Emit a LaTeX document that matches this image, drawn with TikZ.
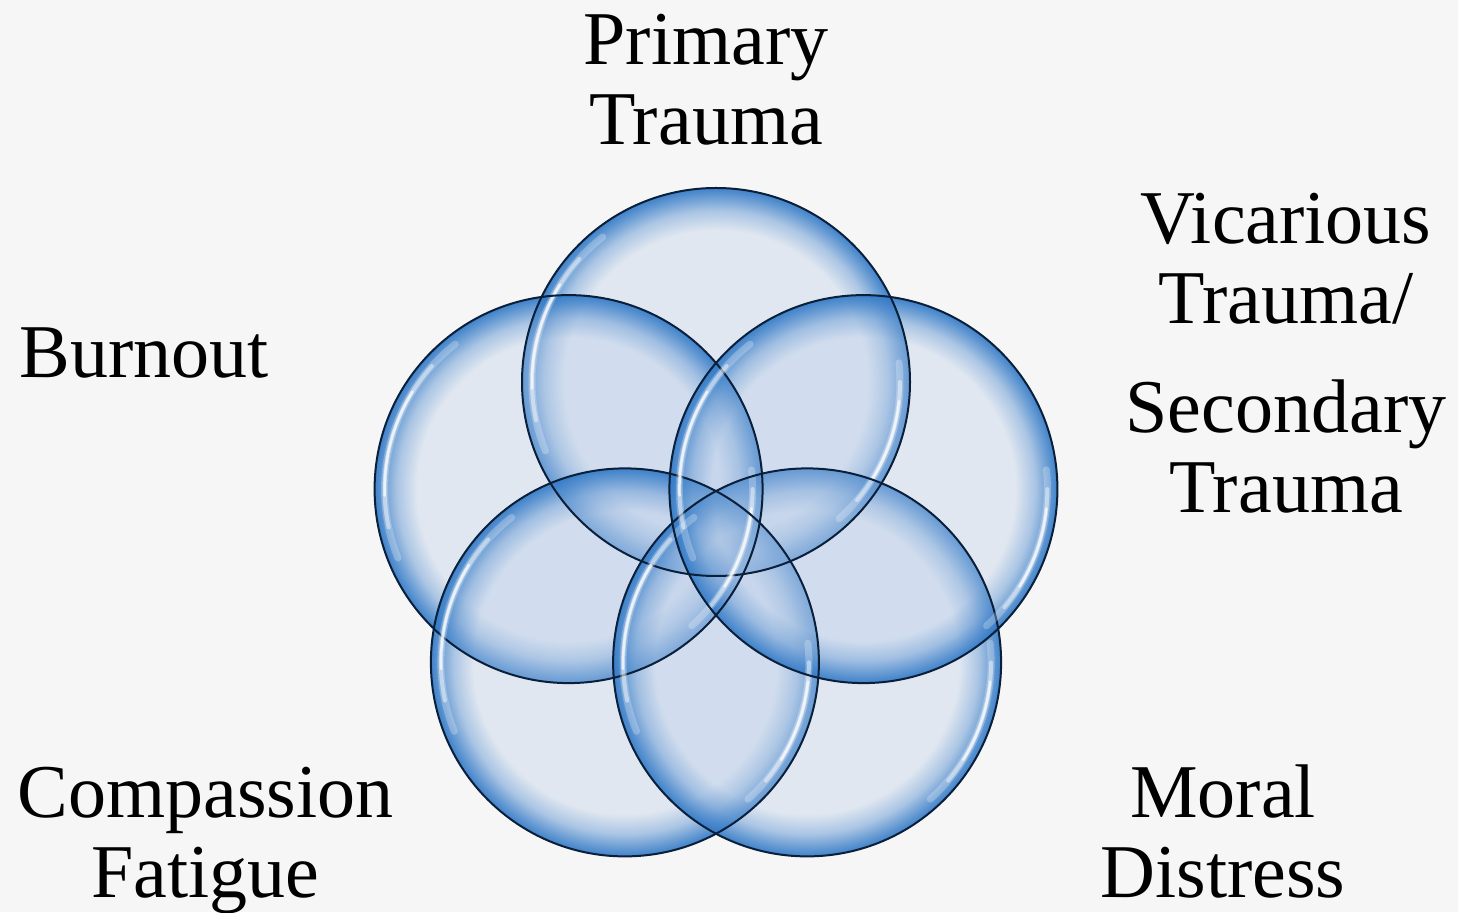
\documentclass[tikz,border=0pt]{standalone}
\usepackage{fontspec}
\setmainfont{Liberation Serif}
\usepackage{xcolor}
\usepackage{tikz}
\usetikzlibrary{shapes.geometric}
\usetikzlibrary{fadings}
\definecolor{fond}{HTML}{F6F6F6}
\definecolor{bulle}{HTML}{B4CAE8}
\definecolor{rebord}{HTML}{2F78C6}
\definecolor{trait}{HTML}{0A1F3A}
% bord bleu des bulles : transparent au centre, opaque vers le bord
\pgfdeclareradialshading{ombrebord}{\pgfpointorigin}{color(0bp)=(black); color(19.5bp)=(black); color(22bp)=(white!30!black); color(23.8bp)=(white!68!black); color(25bp)=(white!92!black); color(50bp)=(white!92!black)}
\pgfdeclarefading{fondubord}{\pgfuseshading{ombrebord}}
\tikzset{
    corps/.style = {fill=bulle, fill opacity=.33},
    bord/.style = {fill=rebord, path fading=fondubord},
    contour/.style = {draw=trait, line width=2bp},
    reflet/.style = {draw=white, line cap=round},
    etiquette/.style = {font=\fontsize{76bp}{80bp}\selectfont, align=center, inner sep=0pt, anchor=base}
}

\begin{document}
\begin{tikzpicture}[x=1bp, y=1bp]
                \useasboundingbox (0,0) rectangle (1458,912);
                \fill[fond] (0,0) rectangle (1458,912);
                \node[regular polygon, regular polygon sides=5, minimum size=310bp, inner sep=0pt, outer sep=0pt] (P) at (716,375) {};
                \foreach \i in {1, ..., 5} {
                        \fill[corps] (P.corner \i) circle (194);
                        \fill[bord] (P.corner \i) circle (194);
                    }
                \foreach \i in {1, ..., 5} {
                        \begin{scope}[shift={(P.corner \i)}]
                                % reflets a gauche et en bas a droite
                                \draw[reflet, line width=7bp, opacity=.25] (128:184) arc[start angle=128, end angle=202, radius=184];
                                \draw[reflet, line width=4bp, opacity=.45] (138:184) arc[start angle=138, end angle=192, radius=184];
                                \draw[reflet, line width=2.5bp, opacity=.7] (148:184) arc[start angle=148, end angle=182, radius=184];
                                \draw[reflet, line width=7bp, opacity=.25] (-48:184) arc[start angle=-48, end angle=6, radius=184];
                                \draw[reflet, line width=4bp, opacity=.45] (-40:184) arc[start angle=-40, end angle=0, radius=184];
                                \draw[reflet, line width=2.5bp, opacity=.7] (-32:184) arc[start angle=-32, end angle=-6, radius=184];
                            \end{scope}
                        \draw[contour] (P.corner \i) circle (194);
                    }
                \node[etiquette] (primaire) at (706,767) {Primary\\Trauma};
                \node[etiquette] (epuisement) at (144,534) {Burnout};
                \node[etiquette] (vicariant) at (1286,399) {Vicarious\\Trauma/\\[29bp]Secondary\\Trauma};
                \node[etiquette] (compassion) at (205.5,15) {Compassion\\Fatigue};
                \node[etiquette] (moral) at (1223,15) {Moral\\Distress};
            \end{tikzpicture}
\end{document}
